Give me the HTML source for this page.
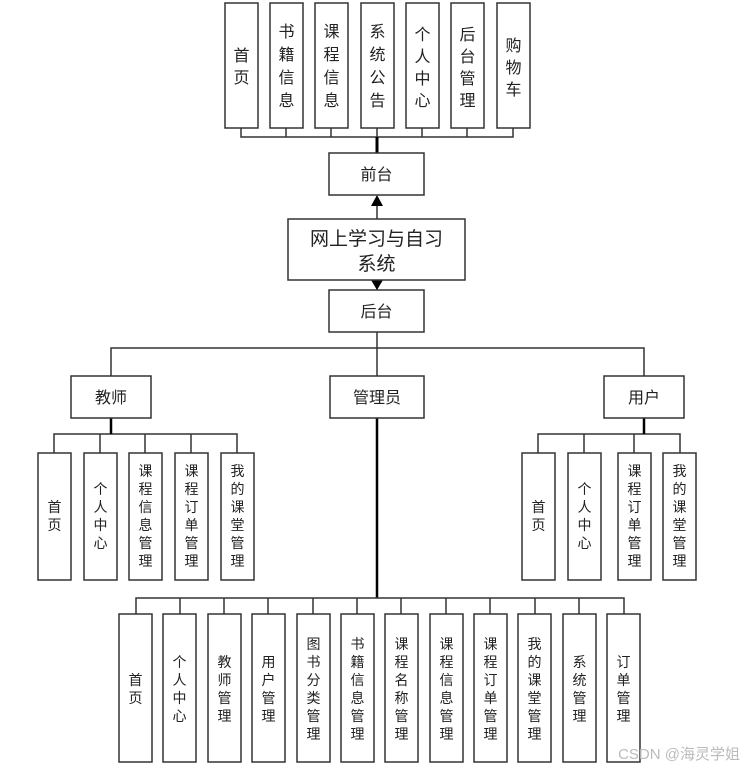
<!DOCTYPE html>
<html><head><meta charset="utf-8"><style>
body{margin:0;background:#fff}
svg text{font-family:"Liberation Sans","Noto Sans CJK SC",sans-serif;fill:#222}
</style></head><body>
<svg width="755" height="772" xmlns="http://www.w3.org/2000/svg">
<g stroke="#333" stroke-width="1.5" fill="none">
<!-- top bus -->
<path d="M241 128V137H513V128M286 128V137M331 128V137M377 128V137M422 128V137M467 128V137"/>
<path d="M377 137V153" stroke-width="3" stroke="#000"/>
<path d="M377 219V205"/>
<path d="M377 280V290"/>
<!-- middle bus -->
<path d="M111 376V348H644V376M377 332V376"/>
<!-- teacher -->
<path d="M54 453V434H237V453M100 434V453M145 434V453M191 434V453"/>
<path d="M111 418V434" stroke-width="2.5" stroke="#000"/>
<!-- user -->
<path d="M538 453V434H680V453M584 434V453M634 434V453"/>
<path d="M644 418V434" stroke-width="2.5" stroke="#000"/>
<!-- admin -->
<path d="M377 418V598" stroke-width="2.5" stroke="#000"/>
<path d="M136 614V598H624V614M180 598V614M224 598V614M268 598V614M313 598V614M357 598V614M401 598V614M446 598V614M490 598V614M535 598V614M579 598V614"/>
</g>
<polygon points="371,206 383,206 377,195" fill="#000"/>
<polygon points="371,280 383,280 377,290" fill="#000"/>
<g stroke="#333" stroke-width="1.5" fill="#fff">
<rect x="225" y="3" width="33" height="125"/><rect x="270" y="3" width="33" height="125"/><rect x="315" y="3" width="33" height="125"/><rect x="361" y="3" width="33" height="125"/><rect x="406" y="3" width="33" height="125"/><rect x="451" y="3" width="33" height="125"/><rect x="497" y="3" width="33" height="125"/>
<rect x="329" y="153" width="95" height="42"/>
<rect x="288" y="219" width="177" height="61"/>
<rect x="329" y="290" width="95" height="42"/>
<rect x="71" y="376" width="80" height="42"/><rect x="330" y="376" width="94" height="42"/><rect x="604" y="376" width="80" height="42"/>
<rect x="38" y="453" width="33" height="127"/><rect x="84" y="453" width="33" height="127"/><rect x="129" y="453" width="33" height="127"/><rect x="175" y="453" width="33" height="127"/><rect x="221" y="453" width="33" height="127"/>
<rect x="522" y="453" width="33" height="127"/><rect x="568" y="453" width="33" height="127"/><rect x="618" y="453" width="33" height="127"/><rect x="663" y="453" width="33" height="127"/>
<rect x="119" y="614" width="33" height="148"/><rect x="163" y="614" width="33" height="148"/><rect x="208" y="614" width="33" height="148"/><rect x="252" y="614" width="33" height="148"/><rect x="297" y="614" width="33" height="148"/><rect x="341" y="614" width="33" height="148"/><rect x="385" y="614" width="33" height="148"/><rect x="430" y="614" width="33" height="148"/><rect x="474" y="614" width="33" height="148"/><rect x="518" y="614" width="33" height="148"/><rect x="563" y="614" width="33" height="148"/><rect x="607" y="614" width="33" height="148"/>
</g>
<g font-size="16" text-anchor="middle">
<text x="376.5" y="180">前台</text>
<text x="376.5" y="317">后台</text>
<text x="111" y="403">教师</text><text x="377" y="403">管理员</text><text x="644" y="403">用户</text>
<text x="376.5" y="245" font-size="19">网上学习与自习</text>
<text x="376.5" y="270" font-size="19">系统</text>
</g>
<g font-size="16" text-anchor="middle">
<text x="241.5"><tspan x="241.5" y="61">首</tspan><tspan x="241.5" y="83">页</tspan></text>
<text><tspan x="286.5" y="37">书</tspan><tspan x="286.5" y="60">籍</tspan><tspan x="286.5" y="83">信</tspan><tspan x="286.5" y="106">息</tspan></text>
<text><tspan x="331.5" y="37">课</tspan><tspan x="331.5" y="60">程</tspan><tspan x="331.5" y="83">信</tspan><tspan x="331.5" y="106">息</tspan></text>
<text><tspan x="377.5" y="37">系</tspan><tspan x="377.5" y="60">统</tspan><tspan x="377.5" y="83">公</tspan><tspan x="377.5" y="106">告</tspan></text>
<text><tspan x="422.5" y="40">个</tspan><tspan x="422.5" y="62">人</tspan><tspan x="422.5" y="84">中</tspan><tspan x="422.5" y="106">心</tspan></text>
<text><tspan x="467.5" y="40">后</tspan><tspan x="467.5" y="62">台</tspan><tspan x="467.5" y="84">管</tspan><tspan x="467.5" y="106">理</tspan></text>
<text><tspan x="513.5" y="51">购</tspan><tspan x="513.5" y="73">物</tspan><tspan x="513.5" y="95">车</tspan></text>
</g>
<g font-size="14" text-anchor="middle">
<text><tspan x="54.5" y="512">首</tspan><tspan x="54.5" y="530">页</tspan></text>
<text><tspan x="100.5" y="494">个</tspan><tspan x="100.5" y="512">人</tspan><tspan x="100.5" y="530">中</tspan><tspan x="100.5" y="548">心</tspan></text>
<text><tspan x="145.5" y="476">课</tspan><tspan x="145.5" y="494">程</tspan><tspan x="145.5" y="512">信</tspan><tspan x="145.5" y="530">息</tspan><tspan x="145.5" y="548">管</tspan><tspan x="145.5" y="566">理</tspan></text>
<text><tspan x="191.5" y="476">课</tspan><tspan x="191.5" y="494">程</tspan><tspan x="191.5" y="512">订</tspan><tspan x="191.5" y="530">单</tspan><tspan x="191.5" y="548">管</tspan><tspan x="191.5" y="566">理</tspan></text>
<text><tspan x="237.5" y="476">我</tspan><tspan x="237.5" y="494">的</tspan><tspan x="237.5" y="512">课</tspan><tspan x="237.5" y="530">堂</tspan><tspan x="237.5" y="548">管</tspan><tspan x="237.5" y="566">理</tspan></text>
<text><tspan x="538.5" y="512">首</tspan><tspan x="538.5" y="530">页</tspan></text>
<text><tspan x="584.5" y="494">个</tspan><tspan x="584.5" y="512">人</tspan><tspan x="584.5" y="530">中</tspan><tspan x="584.5" y="548">心</tspan></text>
<text><tspan x="634.5" y="476">课</tspan><tspan x="634.5" y="494">程</tspan><tspan x="634.5" y="512">订</tspan><tspan x="634.5" y="530">单</tspan><tspan x="634.5" y="548">管</tspan><tspan x="634.5" y="566">理</tspan></text>
<text><tspan x="679.5" y="476">我</tspan><tspan x="679.5" y="494">的</tspan><tspan x="679.5" y="512">课</tspan><tspan x="679.5" y="530">堂</tspan><tspan x="679.5" y="548">管</tspan><tspan x="679.5" y="566">理</tspan></text>
<text><tspan x="135.5" y="685">首</tspan><tspan x="135.5" y="703">页</tspan></text>
<text><tspan x="179.5" y="667">个</tspan><tspan x="179.5" y="685">人</tspan><tspan x="179.5" y="703">中</tspan><tspan x="179.5" y="721">心</tspan></text>
<text><tspan x="224.5" y="667">教</tspan><tspan x="224.5" y="685">师</tspan><tspan x="224.5" y="703">管</tspan><tspan x="224.5" y="721">理</tspan></text>
<text><tspan x="268.5" y="667">用</tspan><tspan x="268.5" y="685">户</tspan><tspan x="268.5" y="703">管</tspan><tspan x="268.5" y="721">理</tspan></text>
<text><tspan x="313.5" y="649">图</tspan><tspan x="313.5" y="667">书</tspan><tspan x="313.5" y="685">分</tspan><tspan x="313.5" y="703">类</tspan><tspan x="313.5" y="721">管</tspan><tspan x="313.5" y="739">理</tspan></text>
<text><tspan x="357.5" y="649">书</tspan><tspan x="357.5" y="667">籍</tspan><tspan x="357.5" y="685">信</tspan><tspan x="357.5" y="703">息</tspan><tspan x="357.5" y="721">管</tspan><tspan x="357.5" y="739">理</tspan></text>
<text><tspan x="401.5" y="649">课</tspan><tspan x="401.5" y="667">程</tspan><tspan x="401.5" y="685">名</tspan><tspan x="401.5" y="703">称</tspan><tspan x="401.5" y="721">管</tspan><tspan x="401.5" y="739">理</tspan></text>
<text><tspan x="446.5" y="649">课</tspan><tspan x="446.5" y="667">程</tspan><tspan x="446.5" y="685">信</tspan><tspan x="446.5" y="703">息</tspan><tspan x="446.5" y="721">管</tspan><tspan x="446.5" y="739">理</tspan></text>
<text><tspan x="490.5" y="649">课</tspan><tspan x="490.5" y="667">程</tspan><tspan x="490.5" y="685">订</tspan><tspan x="490.5" y="703">单</tspan><tspan x="490.5" y="721">管</tspan><tspan x="490.5" y="739">理</tspan></text>
<text><tspan x="534.5" y="649">我</tspan><tspan x="534.5" y="667">的</tspan><tspan x="534.5" y="685">课</tspan><tspan x="534.5" y="703">堂</tspan><tspan x="534.5" y="721">管</tspan><tspan x="534.5" y="739">理</tspan></text>
<text><tspan x="579.5" y="667">系</tspan><tspan x="579.5" y="685">统</tspan><tspan x="579.5" y="703">管</tspan><tspan x="579.5" y="721">理</tspan></text>
<text><tspan x="623.5" y="667">订</tspan><tspan x="623.5" y="685">单</tspan><tspan x="623.5" y="703">管</tspan><tspan x="623.5" y="721">理</tspan></text>
</g>
<text x="740" y="759" font-size="15" text-anchor="end" style="fill:#bbb">CSDN @海灵学姐</text>
</svg>
</body></html>
